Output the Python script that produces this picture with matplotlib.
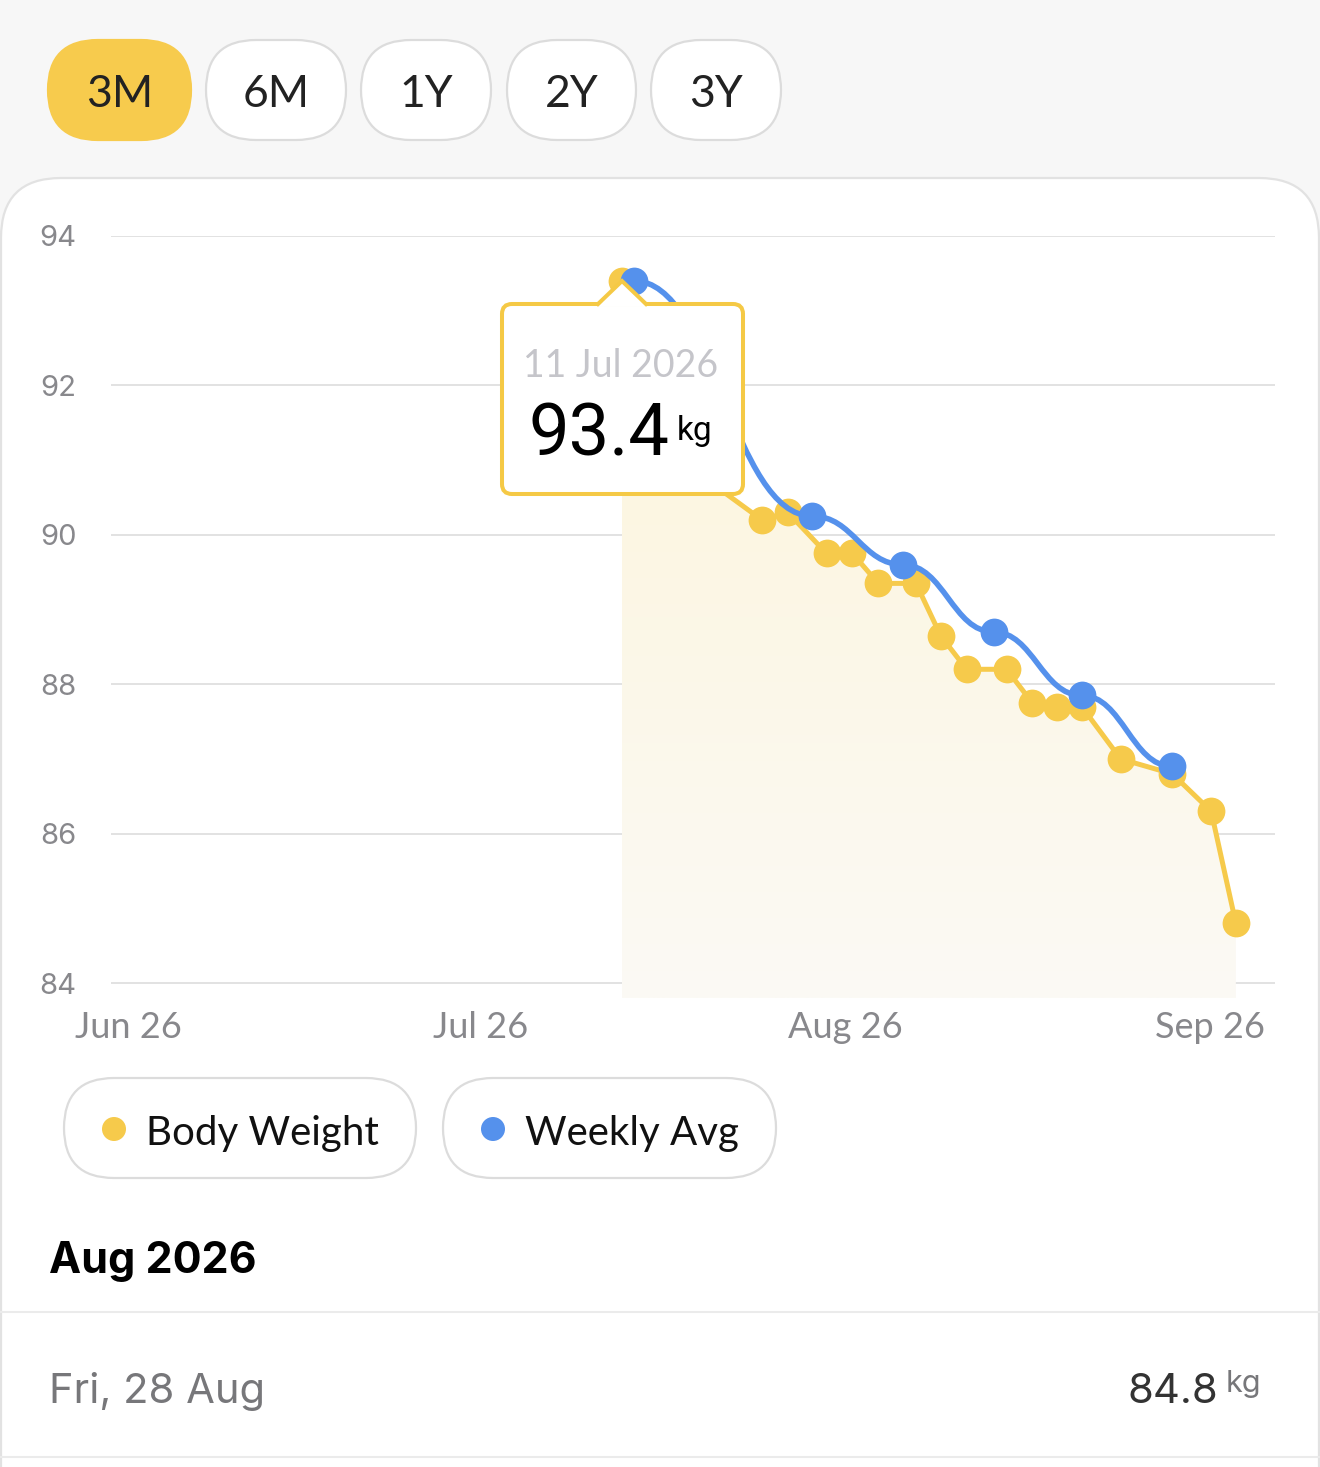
import numpy as np
import matplotlib.pyplot as plt
from matplotlib.patches import FancyBboxPatch, Polygon, PathPatch, Circle
from matplotlib.path import Path
from matplotlib.colors import LinearSegmentedColormap

W, H, DPI = 1320, 1467, 100

ROUND = ['Lato', 'DejaVu Sans']
SF = ['Inter', 'DejaVu Sans']
NARROW = ['Roboto', 'DejaVu Sans']

YELLOW = '#F6CA4B'
BLUE = '#5591EC'
TICK_GRAY = '#88888C'

# ---- data (x = days counted from Jun 26) ----
range_labels = ['3M', '6M', '1Y', '2Y', '3Y']
selected_range = '3M'

x_tick_days = [0, 30, 61, 92]
x_tick_labels = ['Jun 26', 'Jul 26', 'Aug 26', 'Sep 26']
y_ticks = [84, 86, 88, 90, 92, 94]

bw_days = [42.0, 44.8, 47.8, 53.9, 56.1, 59.4, 61.6, 63.8, 67.0,
           69.1, 71.3, 74.7, 76.9, 79.0, 81.1, 84.4, 88.8, 92.1, 94.2]
bw_kg = [93.4, 92.4, 90.9, 90.2, 90.3, 89.75, 89.75, 89.35, 89.35,
         88.65, 88.2, 88.2, 87.75, 87.7, 87.7, 87.0, 86.8, 86.3, 84.8]

avg_days = [43.0, 58.2, 65.9, 73.6, 81.1, 88.8]
avg_kg = [93.4, 90.25, 89.6, 88.7, 87.85, 86.9]

legend_labels = ['Body Weight', 'Weekly Avg']
tooltip_date = '11 Jul 2026'
tooltip_value = '93.4'
month_title = 'Aug 2026'
row_date = 'Fri, 28 Aug'
row_value = '84.8'

fig = plt.figure(figsize=(W / DPI, H / DPI), dpi=DPI)
fig.patch.set_facecolor('white')

# background layer in pixel coordinates
bg = fig.add_axes([0, 0, 1, 1])
bg.set_xlim(0, W)
bg.set_ylim(H, 0)
bg.axis('off')
bg.add_patch(plt.Rectangle((0, 0), W, 240, color='#F7F7F7', lw=0))
bg.add_patch(FancyBboxPatch((1, 178), W - 2, 1500,
                            boxstyle='round,pad=0,rounding_size=60',
                            fc='white', ec='#E2E2E2', lw=1.6))

# range pills
pill_x = [(48, 191), (206, 346), (361, 491), (507, 636), (651, 781)]
for lab, (x0, x1) in zip(range_labels, pill_x):
    sel = lab == selected_range
    bg.add_patch(FancyBboxPatch((x0, 40), x1 - x0, 100,
                                boxstyle='round,pad=0,rounding_size=50',
                                fc='#F7CB4D' if sel else 'white',
                                ec='#F7CB4D' if sel else '#DCDCDC', lw=1.6))
    bg.text((x0 + x1) / 2, 107, lab, ha='center', va='baseline',
            fontsize=32, color='#222222', family=ROUND)

# legend pills
leg_x = [(64, 416), (443, 776)]
leg_col = [YELLOW, BLUE]
for lab, (x0, x1), c in zip(legend_labels, leg_x, leg_col):
    bg.add_patch(FancyBboxPatch((x0, 1078), x1 - x0, 100,
                                boxstyle='round,pad=0,rounding_size=50',
                                fc='white', ec='#DCDCDC', lw=1.6))
    bg.add_patch(Circle((x0 + 50, 1129), 12, color=c, lw=0))
    bg.text(x0 + 82, 1145, lab, ha='left', va='baseline',
            fontsize=29, color='#111111', family=ROUND)

# month list
bg.text(49, 1273, month_title, ha='left', va='baseline', fontsize=31,
        fontweight='bold', color='black', family=SF)
bg.plot([0, W], [1312, 1312], color='#EBEBEB', lw=1.5)
bg.plot([0, W], [1457, 1457], color='#EBEBEB', lw=1.5)
bg.text(49, 1403, row_date, ha='left', va='baseline', fontsize=30,
        color='#77777A', family=SF)
bg.text(1218, 1403, row_value, ha='right', va='baseline', fontsize=30,
        color='#333333', family=SF)
bg.text(1226, 1392, 'kg', ha='left', va='baseline', fontsize=22,
        color='#77777A', family=SF)

# ---- chart ----
left, right, top, bottom = 111, 1275, 236, 998
ax = fig.add_axes([left / W, (H - bottom) / H, (right - left) / W, (bottom - top) / H])
ax.patch.set_alpha(0)
for s in ax.spines.values():
    s.set_visible(False)

# gradient area under body weight
poly = [(bw_days[0], 83.8)] + list(zip(bw_days, bw_kg)) + [(bw_days[-1], 83.8)]
clip = Polygon(poly, closed=True, fc='none', ec='none')
ax.add_patch(clip)
cmap = LinearSegmentedColormap.from_list('fade', [(253 / 255, 244 / 255, 216 / 255),
                                                  (251 / 255, 250 / 255, 245 / 255)])
im = ax.imshow(np.linspace(0, 1, 256).reshape(-1, 1), cmap=cmap, aspect='auto',
               extent=[bw_days[0], bw_days[-1], 83.8, 94.0], origin='upper', zorder=1)
im.set_clip_path(clip)

ax.plot(bw_days, bw_kg, color=YELLOW, lw=3.6, marker='o', ms=20, mew=0,
        zorder=3, clip_on=False)

# weekly average as a smooth bump curve through the points
k = 0.45
verts = [(avg_days[0], avg_kg[0])]
codes = [Path.MOVETO]
for i in range(1, len(avg_days)):
    x0, y0, x1, y1 = avg_days[i - 1], avg_kg[i - 1], avg_days[i], avg_kg[i]
    dx = x1 - x0
    verts += [(x0 + dx * k, y0), (x1 - dx * k, y1), (x1, y1)]
    codes += [Path.CURVE4] * 3
ax.add_patch(PathPatch(Path(verts, codes), fc='none', ec=BLUE, lw=4.0,
                       zorder=4, capstyle='round'))
ax.plot(avg_days, avg_kg, ls='none', marker='o', ms=20, mew=0, color=BLUE,
        zorder=5, clip_on=False)

ax.set_xlim(-1.45, 97.53)
ax.set_ylim(83.8, 94.0)
ax.set_yticks(y_ticks)
ax.set_yticklabels([str(v) for v in y_ticks], family=SF, fontsize=21, color=TICK_GRAY)
ax.set_xticks(x_tick_days)
ax.set_xticklabels(x_tick_labels, family=ROUND, fontsize=26, color=TICK_GRAY)
ax.tick_params(axis='y', length=0, pad=25)
ax.tick_params(axis='x', length=0, pad=9)
ax.grid(axis='y', color='#DDDDDD', lw=1.2, zorder=0)
ax.set_axisbelow(True)

# ---- foreground: tooltip ----
fg = fig.add_axes([0, 0, 1, 1])
fg.set_xlim(0, W)
fg.set_ylim(H, 0)
fg.axis('off')
fg.patch.set_alpha(0)
fg.add_patch(FancyBboxPatch((502, 304), 241, 190,
                            boxstyle='round,pad=0,rounding_size=10',
                            fc='white', ec='#F5C945', lw=2.9))
fg.add_patch(Polygon([(598, 306.5), (622, 282), (646, 306.5)], closed=True,
                     fc='white', ec='none'))
fg.plot([598, 622, 646], [304, 281, 304], color='#F5C945', lw=2.9,
        solid_joinstyle='miter')
fg.text(621, 377, tooltip_date, ha='center', va='baseline', fontsize=27,
        color='#C5C5CA', family=ROUND)
fg.text(528, 455, tooltip_value, ha='left', va='baseline', fontsize=52,
        color='black', family=NARROW)
fg.text(677, 440, 'kg', ha='left', va='baseline', fontsize=24,
        color='black', family=NARROW)

fig.savefig('out.png', dpi=DPI)
